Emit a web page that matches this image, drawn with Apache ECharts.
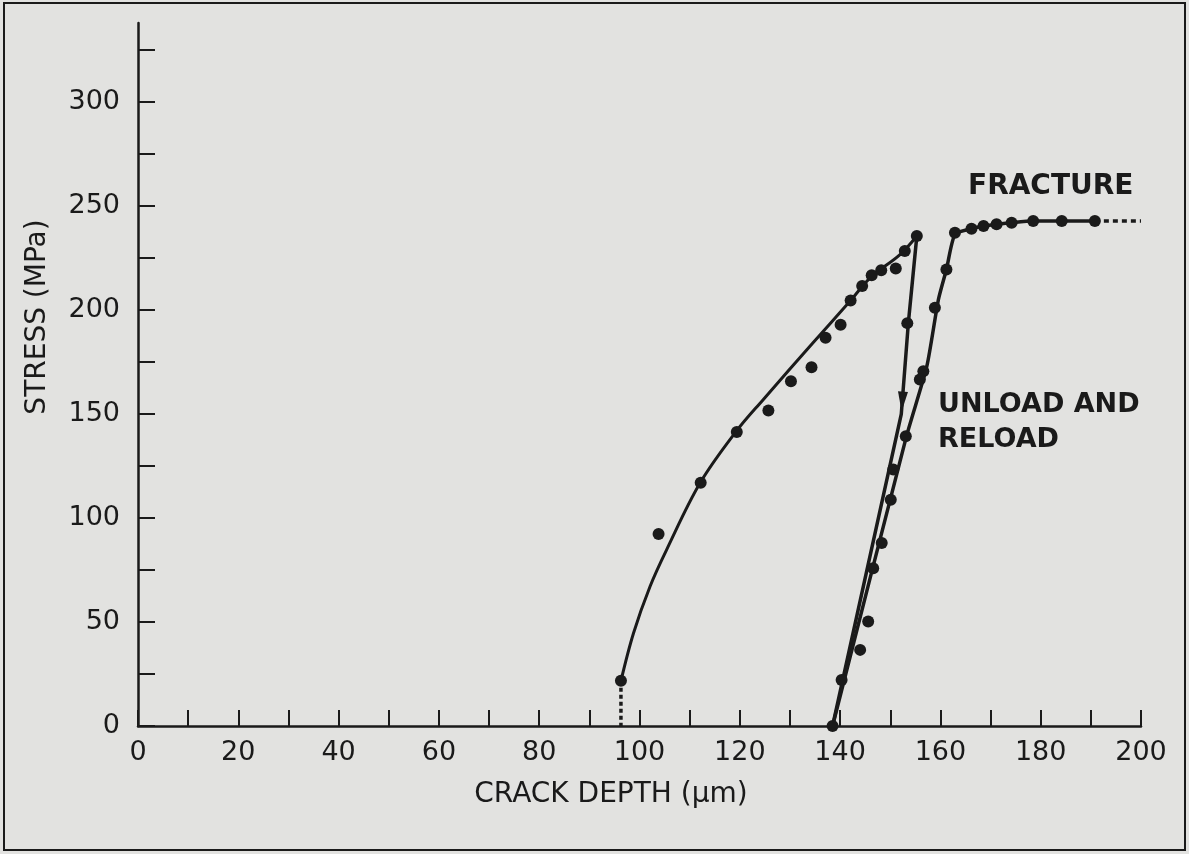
<!DOCTYPE html>
<html>
<head>
<meta charset="utf-8">
<script src="https://cdn.jsdelivr.net/npm/echarts@6/dist/echarts.min.js"></script>
<style>
html,body{margin:0;padding:0;background:#e2e2e0;}
#c{width:1189px;height:854px;}
</style>
</head>
<body>
<div id="c"></div>
<script>
// ---- data ----
const xTickLabels = ['0','20','40','60','80','100','120','140','160','180','200'];
const yTickLabels = ['0','50','100','150','200','250','300'];

// fitted loading curve (smooth solid line)
const loadCurveX = [96.3, 98.8, 102.1, 105.4, 112.1, 119.4, 124.7, 134.6, 142.0, 146.0, 152.0, 155.3];
const loadCurveY = [21.7, 44.6, 67.1, 84.7, 116.9, 142.0, 157.0, 184.3, 204.3, 215.5, 226.8, 235.6];

// measured points during loading
const loadPtsX = [96.3, 103.8, 112.2, 119.4, 125.7, 130.2, 134.3, 137.1, 140.1, 142.1, 144.4, 146.3, 148.2, 151.1, 152.9, 155.3];
const loadPtsY = [21.7, 92.3, 116.9, 141.4, 151.7, 165.8, 172.5, 186.7, 192.9, 204.6, 211.5, 216.7, 219.1, 220.0, 228.4, 235.6];

// unload line
const unloadX = [155.3, 153.6, 152.2, 138.5];
const unloadY = [235.6, 193.5, 150.0, 0.0];

// reload line (up to the plateau)
const reloadX = [138.5, 153.2, 157.3, 159.6, 161.2, 162.9, 166.2, 168.6, 171.2, 174.2, 178.5, 190.8];
const reloadY = [0.0, 139.0, 173.0, 205.0, 219.5, 236.4, 239.1, 240.4, 241.2, 242.0, 242.8, 242.8];

// measured points during unload / reload
const urPtsX = [153.4, 156.6, 155.9, 153.1, 150.6, 150.1, 148.3, 146.6, 145.6, 144.0, 140.3, 138.5, 158.9];
const urPtsY = [193.7, 170.6, 166.6, 139.3, 123.3, 108.8, 88.0, 75.9, 50.2, 36.6, 22.1, 0.0, 201.1];

// measured points on the plateau up to fracture
const platPtsX = [161.2, 162.9, 166.2, 168.6, 171.2, 174.2, 178.5, 184.2, 190.8];
const platPtsY = [219.5, 237.2, 239.1, 240.4, 241.2, 242.0, 242.8, 242.8, 242.8];

// dashed extensions
const startDashX = [96.3, 96.3];
const startDashY = [21.7, 0];
const endDashX = [190.8, 200];
const endDashY = [242.8, 242.8];

// arrow on the unload line
const arrowX = [152.4];
const arrowY = [156];

const zip = (xs, ys) => xs.map((x, i) => [x, ys[i]]);

const INK = '#1a1a1a';
const FONT = 'DejaVu Sans';

const chart = echarts.init(document.getElementById('c'), null, {renderer: 'canvas'});

const option = {
  backgroundColor: '#e2e2e0',
  animation: false,
  grid: {left: 138, right: 48, top: 23, bottom: 128, containLabel: false},
  xAxis: {
    type: 'value', min: 0, max: 200, interval: 10,
    axisLine: {show: true, onZero: false, lineStyle: {color: INK, width: 2.5}},
    axisTick: {show: true, inside: true, length: 16, lineStyle: {color: INK, width: 2}},
    splitLine: {show: false},
    axisLabel: {
      color: INK, fontFamily: FONT, fontSize: 27, margin: 13,
      formatter: v => xTickLabels.includes(String(v)) ? String(v) : ''
    }
  },
  yAxis: {
    type: 'value', min: 0, max: 338, interval: 25,
    axisLine: {show: true, onZero: false, lineStyle: {color: INK, width: 2.5}},
    axisTick: {show: true, inside: true, length: 17, lineStyle: {color: INK, width: 2}},
    splitLine: {show: false},
    axisLabel: {
      color: INK, fontFamily: FONT, fontSize: 27, margin: 18,
      showMaxLabel: false,
      formatter: v => yTickLabels.includes(String(v)) ? String(v) : ''
    }
  },
  graphic: [
    {type: 'rect', shape: {x: 4, y: 3, width: 1181, height: 847},
     style: {fill: null, stroke: INK, lineWidth: 2}, silent: true, z: 100},
    {type: 'text', x: 611, y: 795,
     style: {text: 'CRACK DEPTH (μm)', fill: INK, font: '28px "DejaVu Sans"', align: 'center', verticalAlign: 'middle'}},
    {type: 'text', x: 38, y: 317, rotation: Math.PI / 2,
     style: {text: 'STRESS (MPa)', fill: INK, font: '28px "DejaVu Sans"', align: 'center', verticalAlign: 'middle'}},
    {type: 'text', x: 968, y: 187,
     style: {text: 'FRACTURE', fill: INK, font: 'bold 28px "DejaVu Sans"', align: 'left', verticalAlign: 'middle'}},
    {type: 'text', x: 938, y: 405,
     style: {text: 'UNLOAD AND', fill: INK, font: 'bold 27px "DejaVu Sans"', align: 'left', verticalAlign: 'middle'}},
    {type: 'text', x: 938, y: 440,
     style: {text: 'RELOAD', fill: INK, font: 'bold 27px "DejaVu Sans"', align: 'left', verticalAlign: 'middle'}}
  ],
  series: [
    {type: 'line', name: 'loading fit', data: zip(loadCurveX, loadCurveY), smooth: 0.35,
     showSymbol: false, lineStyle: {color: INK, width: 3}, z: 3},
    {type: 'line', name: 'unload', data: zip(unloadX, unloadY), smooth: false,
     showSymbol: false, lineStyle: {color: INK, width: 3.5}, z: 3},
    {type: 'line', name: 'reload', data: zip(reloadX, reloadY), smooth: 0.2,
     showSymbol: false, lineStyle: {color: INK, width: 3.5}, z: 3},
    {type: 'line', name: 'start dash', data: zip(startDashX, startDashY),
     showSymbol: false, lineStyle: {color: INK, width: 3.5, type: [4, 3]}, z: 3},
    {type: 'line', name: 'end dash', data: zip(endDashX, endDashY),
     showSymbol: false, lineStyle: {color: INK, width: 3.5, type: [5, 4]}, z: 3},
    {type: 'scatter', name: 'loading points', data: zip(loadPtsX, loadPtsY),
     symbol: 'circle', symbolSize: 12, itemStyle: {color: INK, opacity: 1}, z: 4},
    {type: 'scatter', name: 'unload/reload points', data: zip(urPtsX, urPtsY),
     symbol: 'circle', symbolSize: 12, itemStyle: {color: INK, opacity: 1}, z: 4},
    {type: 'scatter', name: 'plateau points', data: zip(platPtsX, platPtsY),
     symbol: 'circle', symbolSize: 12, itemStyle: {color: INK, opacity: 1}, z: 4},
    {type: 'scatter', name: 'arrow', data: zip(arrowX, arrowY),
     symbol: 'triangle', symbolSize: [10, 20], symbolRotate: 176, itemStyle: {color: INK, opacity: 1}, z: 5}
  ]
};
chart.setOption(option);
</script>
</body>
</html>
